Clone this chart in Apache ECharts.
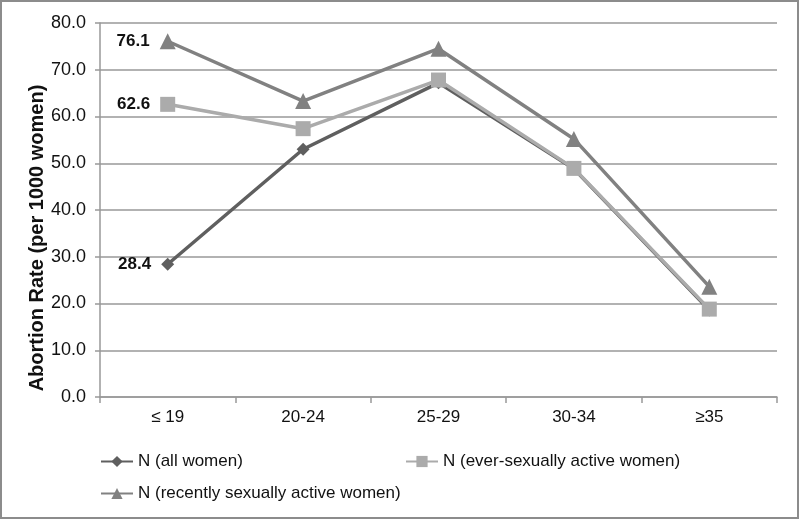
<!DOCTYPE html>
<html>
<head>
<meta charset="utf-8">
<script src="https://cdn.jsdelivr.net/npm/echarts@6/dist/echarts.min.js"></script>
<style>
  html, body { margin: 0; padding: 0; background: #fff; }
  #chart { width: 800px; height: 520px; }
</style>
</head>
<body>
<div id="chart"></div>
<script>
const ageGroups = ['≤ 19', '20-24', '25-29', '30-34', '≥35'];
const allWomen = [28.4, 53.0, 67.2, 48.8, 18.6];
const everActive = [62.6, 57.4, 67.8, 48.9, 18.8];
const recentActive = [76.1, 63.3, 74.5, 55.2, 23.6];
const seriesNames = ['N (all women)', 'N (ever-sexually active women)', 'N (recently sexually active women)'];

const font = 'Liberation Sans, Arial, sans-serif';

// only the first point of each line carries a label
function withFirstLabel(values) {
  return values.map((v, i) => i === 0
    ? { value: v, label: { show: true, position: 'left', distance: 10, formatter: p => p.value.toFixed(1) } }
    : v);
}

function makeSeries(name, values, color, symbol, size) {
  return {
    name: name,
    type: 'line',
    data: withFirstLabel(values),
    symbol: symbol,
    symbolSize: size,
    lineStyle: { color: color, width: 3.5 },
    itemStyle: { color: color },
    label: { color: '#111', fontWeight: 'bold', fontSize: 17, fontFamily: font },
    emphasis: { disabled: true }
  };
}

const legendText = { fontSize: 17, color: '#111', fontFamily: font };

const chart = echarts.init(document.getElementById('chart'));
chart.setOption({
  animation: false,
  textStyle: { fontFamily: font },
  grid: { left: 100, right: 23, top: 23, bottom: 123 },
  graphic: [{
    type: 'rect',
    shape: { x: 1, y: 1, width: 797, height: 517 },
    style: { fill: 'none', stroke: '#8c8c8c', lineWidth: 2 },
    silent: true
  }],
  legend: [
    { data: [seriesNames[0]], left: 95, top: 448, itemWidth: 32, itemHeight: 14, textStyle: legendText },
    { data: [seriesNames[1]], left: 400, top: 448, itemWidth: 32, itemHeight: 14, textStyle: legendText },
    { data: [seriesNames[2]], left: 95, top: 480, itemWidth: 32, itemHeight: 14, textStyle: legendText }
  ],
  xAxis: {
    type: 'category',
    data: ageGroups,
    boundaryGap: true,
    axisLine: { lineStyle: { color: '#999', width: 1.5 } },
    axisTick: { show: true, length: 6, lineStyle: { color: '#999', width: 1.5 } },
    axisLabel: { fontSize: 17, color: '#111', margin: 12, fontFamily: font }
  },
  yAxis: {
    type: 'value',
    min: 0,
    max: 80,
    interval: 10,
    name: 'Abortion Rate (per 1000 women)',
    nameLocation: 'middle',
    nameGap: 53,
    nameMoveOverlap: false,
    nameTextStyle: { fontSize: 20, fontWeight: 'bold', color: '#111', fontFamily: font, padding: [0, 56, 0, 0] },
    axisLine: { show: true, lineStyle: { color: '#999', width: 1.5 } },
    axisTick: { show: true, length: 5, lineStyle: { color: '#999', width: 1.5 } },
    axisLabel: { fontSize: 18, color: '#111', margin: 14, formatter: v => v.toFixed(1), fontFamily: font },
    splitLine: { lineStyle: { color: '#999', width: 1.5 } }
  },
  series: [
    makeSeries(seriesNames[0], allWomen, '#5f5f5f', 'diamond', 13),
    makeSeries(seriesNames[1], everActive, '#ababab', 'rect', 15),
    makeSeries(seriesNames[2], recentActive, '#818181', 'triangle', 16)
  ]
});
</script>
</body>
</html>
